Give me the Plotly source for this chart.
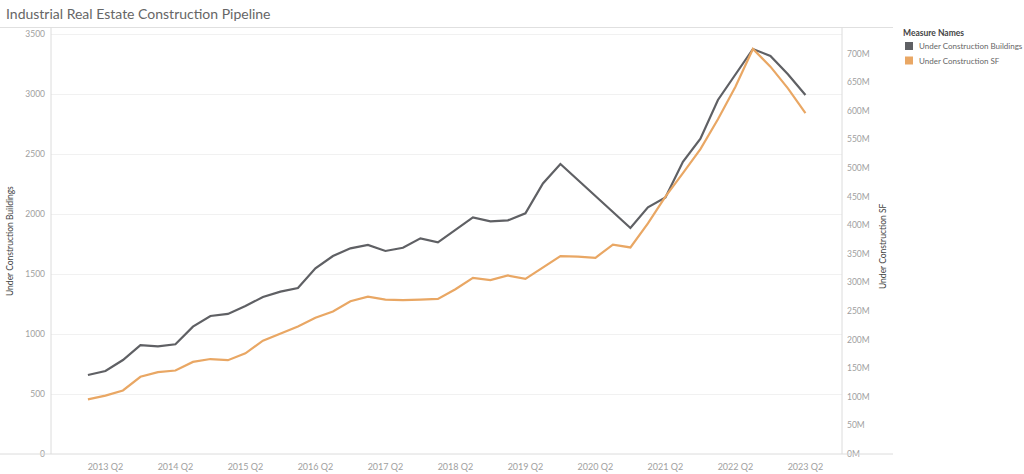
import plotly.graph_objects as go

quarters = [
    "2013 Q1", "2013 Q2", "2013 Q3", "2013 Q4",
    "2014 Q1", "2014 Q2", "2014 Q3", "2014 Q4",
    "2015 Q1", "2015 Q2", "2015 Q3", "2015 Q4",
    "2016 Q1", "2016 Q2", "2016 Q3", "2016 Q4",
    "2017 Q1", "2017 Q2", "2017 Q3", "2017 Q4",
    "2018 Q1", "2018 Q2", "2018 Q3", "2018 Q4",
    "2019 Q1", "2019 Q2", "2019 Q3", "2019 Q4",
    "2020 Q1", "2020 Q2", "2020 Q3", "2020 Q4",
    "2021 Q1", "2021 Q2", "2021 Q3", "2021 Q4",
    "2022 Q1", "2022 Q2", "2022 Q3", "2022 Q4",
    "2023 Q1", "2023 Q2",
]

buildings = [
    658, 692, 783, 908, 897, 914, 1061, 1150, 1167, 1233,
    1308, 1353, 1383, 1547, 1650, 1714, 1742, 1692, 1719, 1797,
    1764, 1867, 1972, 1939, 1947, 2006, 2255, 2417, 2283, 2144,
    2011, 1883, 2055, 2138, 2435, 2628, 2950, 3158, 3375, 3317,
    3164, 2992,
]

sf_millions = [
    95.6, 102, 111, 135, 143, 146, 161, 166, 164, 176,
    198, 211, 223, 238, 249, 267, 275, 270, 269, 270,
    271, 288, 308, 304, 312, 306, 326, 346, 345, 343,
    366, 361, 403, 450, 491, 533, 585, 642, 708, 677,
    639, 596,
]

x_tick_labels = ["2013 Q2", "2014 Q2", "2015 Q2", "2016 Q2", "2017 Q2", "2018 Q2",
                 "2019 Q2", "2020 Q2", "2021 Q2", "2022 Q2", "2023 Q2"]
left_ticks = [0, 500, 1000, 1500, 2000, 2500, 3000, 3500]
right_ticks = [0, 50, 100, 150, 200, 250, 300, 350, 400, 450, 500, 550, 600, 650, 700]

GRAY = "#5f6064"
ORANGE = "#e9a764"
FONT = "Lato"

# plot area in pixels
PL, PR, PT, PB = 51, 842, 28, 454
W, H = 1024, 474
pw, ph = PR - PL, PB - PT


def px(x):
    return (x - PL) / pw


def py(y):
    return (PB - y) / ph


fig = go.Figure()
fig.add_trace(go.Scatter(x=quarters, y=buildings, mode="lines", name="Under Construction Buildings",
                         line=dict(color=GRAY, width=2.2), yaxis="y"))
fig.add_trace(go.Scatter(x=quarters, y=sf_millions, mode="lines", name="Under Construction SF",
                         line=dict(color=ORANGE, width=2.2), yaxis="y2"))

fig.update_layout(
    width=W, height=H,
    margin=dict(l=PL, r=W - PR, t=PT, b=H - PB, pad=0, autoexpand=False),
    paper_bgcolor="white", plot_bgcolor="white",
    showlegend=False,
    font=dict(family=FONT, size=9, color="#999999"),
    xaxis=dict(type="category", range=[-2.11, 43.09], tickvals=x_tick_labels, ticktext=x_tick_labels,
               showgrid=False, zeroline=False, showline=False, ticks="", ticklabelstandoff=6,
               automargin=False, tickfont=dict(size=9, color="#a0a0a0")),
    yaxis=dict(range=[0, 3550], tickvals=left_ticks, ticktext=[str(v) for v in left_ticks],
               showgrid=True, gridcolor="#f1f1f1", gridwidth=1, zeroline=False, showline=False,
               automargin=False, ticks="", ticklabelstandoff=5, tickfont=dict(size=8.5, color="#a0a0a0")),
    yaxis2=dict(range=[0, 744.6], overlaying="y", side="right", tickvals=right_ticks,
                ticktext=[f"{v}M" for v in right_ticks], showgrid=False, zeroline=False,
                showline=False, ticks="", ticklabelstandoff=4, automargin=False,
                tickfont=dict(size=8.5, color="#a0a0a0")),
)

line_c = "#dcdcdc"
shapes = [
    # top and bottom separators
    dict(type="line", xref="paper", yref="paper", x0=px(0), x1=px(893), y0=py(27.5), y1=py(27.5),
         line=dict(color="#e0e0e0", width=1)),
    dict(type="line", xref="paper", yref="paper", x0=px(0), x1=px(893), y0=py(454), y1=py(454),
         line=dict(color=line_c, width=1)),
    # left and right axis lines
    dict(type="line", xref="paper", yref="paper", x0=0, x1=0, y0=0, y1=py(27.5),
         line=dict(color=line_c, width=1)),
    dict(type="line", xref="paper", yref="paper", x0=1, x1=1, y0=0, y1=py(27.5),
         line=dict(color=line_c, width=1)),
    # legend swatches
    dict(type="rect", xref="paper", yref="paper", x0=px(905), x1=px(913), y0=py(50), y1=py(42),
         fillcolor=GRAY, line=dict(width=0)),
    dict(type="rect", xref="paper", yref="paper", x0=px(905), x1=px(913), y0=py(64.5), y1=py(56.5),
         fillcolor=ORANGE, line=dict(width=0)),
]
fig.update_layout(shapes=shapes)

annotations = [
    dict(text="Industrial Real Estate Construction Pipeline", xref="paper", yref="paper",
         x=px(4), y=py(14), xanchor="left", yanchor="middle", showarrow=False,
         font=dict(family=FONT, size=14, color="#666666")),
    dict(text="Under Construction Buildings", xref="paper", yref="paper", x=px(10), y=py(241),
         xanchor="center", yanchor="middle", textangle=-90, showarrow=False,
         font=dict(family=FONT, size=8.5, color="#444444")),
    dict(text="Under Construction SF", xref="paper", yref="paper", x=px(883), y=py(246),
         xanchor="center", yanchor="middle", textangle=-90, showarrow=False,
         font=dict(family=FONT, size=8.5, color="#444444")),
    dict(text="<b>Measure Names</b>", xref="paper", yref="paper", x=px(901), y=py(33),
         xanchor="left", yanchor="middle", showarrow=False,
         font=dict(family=FONT, size=8.5, color="#444444")),
    dict(text="Under Construction Buildings", xref="paper", yref="paper", x=px(917), y=py(46),
         xanchor="left", yanchor="middle", showarrow=False,
         font=dict(family=FONT, size=8, color="#666666")),
    dict(text="Under Construction SF", xref="paper", yref="paper", x=px(917), y=py(60.5),
         xanchor="left", yanchor="middle", showarrow=False,
         font=dict(family=FONT, size=8, color="#666666")),
]
fig.update_layout(annotations=annotations)

fig.write_html("out.html")
